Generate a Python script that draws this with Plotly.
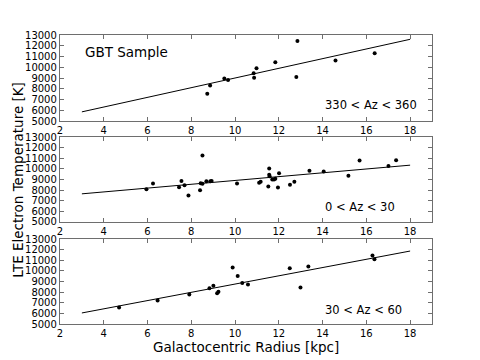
import plotly.graph_objects as go

# Az 330-360 sample
r_top = [8.73, 8.86, 9.51, 9.68, 10.85, 10.87, 10.98, 11.84, 12.85, 12.80, 14.59, 16.38]
te_top = [7540, 8320, 8970, 8810, 9440, 9030, 9900, 10460, 12440, 9090, 10640, 11300]

# Az 0-30 sample
r_mid = [5.95, 6.25, 7.44, 7.55, 7.69, 7.87, 8.40, 8.43, 8.51, 8.51, 8.69, 8.87, 8.93,
         10.09, 11.10, 11.17, 11.52, 11.56, 11.56, 11.58, 11.70, 11.78, 11.84, 11.96,
         12.01, 12.51, 12.71, 13.40, 14.05, 15.18, 15.69, 17.01, 17.36]
te_mid = [8080, 8620, 8270, 8870, 8460, 7490, 7990, 8650, 8590, 11270, 8840, 8840, 8870,
          8620, 8700, 8780, 8340, 10040, 9440, 9310, 9000, 9000, 9060, 8240,
          9600, 8500, 8780, 9820, 9750, 9350, 10790, 10260, 10820]

# Az 30-60 sample
r_bot = [4.70, 6.46, 7.91, 8.83, 9.01, 9.18, 9.24, 9.89, 10.12, 10.33, 10.59,
         12.50, 12.99, 13.35, 16.28, 16.37]
te_bot = [6550, 7210, 7780, 8370, 8590, 7900, 8030, 10330, 9510, 8850, 8720,
          10260, 8440, 10420, 11460, 11090]

# linear fits
fit_r = [3, 18]
fit_top = [5860, 12600]
fit_mid = [7650, 10350]
fit_bot = [6040, 11870]

labels = ["330 < Az < 360", "0 < Az < 30", "30 < Az < 60"]

FONT = "DejaVu Sans"
FRAME = "#6e6e6e"

fig = go.Figure()

panels = [(r_top, te_top, fit_top), (r_mid, te_mid, fit_mid), (r_bot, te_bot, fit_bot)]
domains = [[0.702, 1.0], [0.353, 0.647], [0.0, 0.294]]
label_y = [0.186, 0.18, 0.16]

for i, (r, te, fit) in enumerate(panels):
    n = "" if i == 0 else str(i + 1)
    fig.add_trace(go.Scatter(x=fit_r, y=fit, mode="lines",
                             line=dict(color="black", width=1),
                             xaxis="x" + n, yaxis="y" + n, showlegend=False))
    fig.add_trace(go.Scatter(x=r, y=te, mode="markers",
                             marker=dict(color="black", size=4),
                             xaxis="x" + n, yaxis="y" + n, showlegend=False))
    ax = dict(range=[2, 19], tick0=2, dtick=2, ticks="inside", ticklen=4,
              tickcolor=FRAME, showline=True, linecolor=FRAME, linewidth=1.3,
              mirror="allticks", showgrid=False, zeroline=False,
              anchor="y" + n, tickfont=dict(size=10, color="black"))
    ay = dict(range=[5000, 13000], tick0=5000, dtick=1000, tickformat="d",
              ticks="inside", ticklen=4,
              tickcolor=FRAME, showline=True, linecolor=FRAME, linewidth=1.3,
              mirror="allticks", showgrid=False, zeroline=False,
              anchor="x" + n, domain=domains[i], tickfont=dict(size=10, color="black"))
    fig.update_layout({"xaxis" + n: ax, "yaxis" + n: ay})
    fig.add_annotation(text=labels[i], xref="x%s domain" % n, yref="y%s domain" % n,
                       x=0.706, y=label_y[i], xanchor="left", yanchor="middle",
                       showarrow=False, font=dict(size=11.5, color="black"))

fig.add_annotation(text="GBT Sample", xref="x domain", yref="y domain",
                   x=0.061, y=0.80, xanchor="left", yanchor="middle",
                   showarrow=False, font=dict(size=13.5, color="black"))

fig.add_annotation(text="Galactocentric Radius [kpc]", xref="paper", yref="paper",
                   x=0.5, y=-0.045, xanchor="center", yanchor="top",
                   showarrow=False, font=dict(size=13.5, color="black"))
fig.add_annotation(text="LTE Electron Temperature [K]", xref="paper", yref="paper",
                   x=-0.115, y=0.5, textangle=-90, xanchor="center", yanchor="middle",
                   showarrow=False, font=dict(size=13.5, color="black"))

# the page puts the figure 8px in from the corner, so the margins allow for that
fig.update_layout(width=480, height=360,
                  margin=dict(l=52, r=56, t=27, b=44),
                  paper_bgcolor="white", plot_bgcolor="white",
                  font=dict(family=FONT, color="black"))

fig.write_html("out.html")
